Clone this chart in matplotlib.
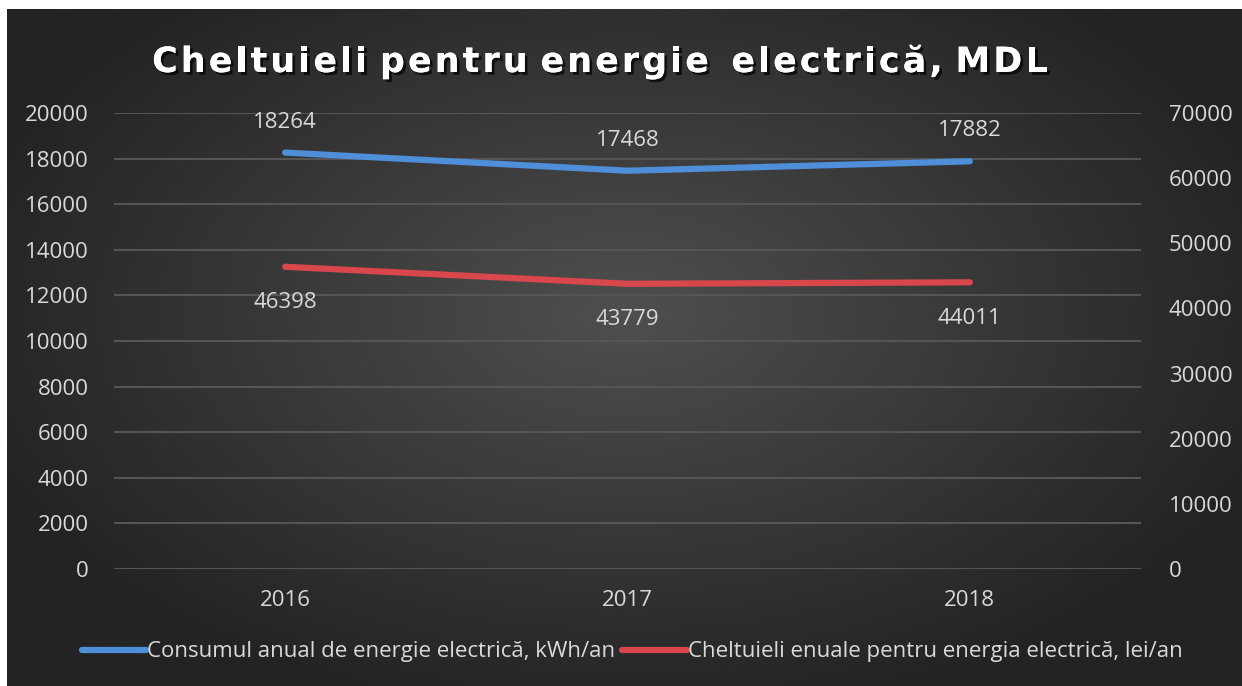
import numpy as np
import matplotlib
matplotlib.use("Agg")
import matplotlib.pyplot as plt
import matplotlib.patheffects as pe

years = ["2016", "2017", "2018"]
consum_kwh = [18264, 17468, 17882]
cheltuieli_lei = [46398, 43779, 44011]

left_ticks = list(range(0, 20001, 2000))
right_ticks = list(range(0, 70001, 10000))

title = "Cheltuieli pentru energie  electrică, MDL"
label_consum = "Consumul anual de energie electrică, kWh/an"
label_chelt = "Cheltuieli enuale pentru energia electrică, lei/an"

W, H = 1242, 686
fig = plt.figure(figsize=(W / 100, H / 100), dpi=100)
fig.patch.set_facecolor("white")

# dark chart box with radial gradient
bg = fig.add_axes([7 / W, 0, 1 - 7 / W, 1 - 9 / H])
gx, gy = np.meshgrid(np.linspace(-1, 1, 400), np.linspace(-1, 1, 240))
r = np.sqrt((gx / 1.1) ** 2 + ((gy + 0.1) / 1.2) ** 2)
shade = 0.31 - 0.17 * np.clip(r, 0, 1)
bg.imshow(shade, cmap="gray", vmin=0, vmax=1, aspect="auto",
          extent=[0, 1, 0, 1], interpolation="bicubic")
bg.set_axis_off()

ax = fig.add_axes([114 / W, 1 - 569 / H, (1141 - 114) / W, (569 - 113) / H])
ax.patch.set_alpha(0)
ax2 = ax.twinx()

x = np.arange(len(years))
tick_color = "#d9d9d9"
font = ["Open Sans", "DejaVu Sans"]
fs = 16

ax.set_xlim(-0.5, len(years) - 0.5)
ax.set_ylim(0, 20000)
ax2.set_ylim(0, 70000)
ax.set_yticks(left_ticks)
ax2.set_yticks(right_ticks)
ax.set_xticks(x)
ax.set_xticklabels(years)
ax.grid(axis="y", color="#555555", linewidth=1.5)
ax.set_axisbelow(True)

for a in (ax, ax2):
    for s in a.spines.values():
        s.set_visible(False)
    a.tick_params(length=0, labelcolor=tick_color, labelsize=fs)
    for lbl in a.get_xticklabels() + a.get_yticklabels():
        lbl.set_family(font)
ax.tick_params(axis="y", pad=18)
ax2.tick_params(axis="y", pad=20)
ax.tick_params(axis="x", pad=15)

blue = "#4f8fd9"
red = "#d9474d"
l1, = ax.plot(x, consum_kwh, color=blue, linewidth=4.5,
              solid_capstyle="round", label=label_consum)
l2, = ax2.plot(x, cheltuieli_lei, color=red, linewidth=4.5,
               solid_capstyle="round", label=label_chelt)

for xi, v in zip(x, consum_kwh):
    ax.annotate(str(v), (xi, v), xytext=(0, 22), textcoords="offset points",
                ha="center", va="center", color=tick_color, fontsize=fs,
                family=font)
for xi, v in zip(x, cheltuieli_lei):
    ax2.annotate(str(v), (xi, v), xytext=(0, -26), textcoords="offset points",
                 ha="center", va="center", color=tick_color, fontsize=fs,
                 family=font)

# title with extra letter spacing, drawn one character at a time
renderer = fig.canvas.get_renderer()
title_kw = dict(fontsize=25, fontweight="bold", color="white", va="center",
                ha="left",
                path_effects=[pe.withSimplePatchShadow(offset=(2, -2),
                                                       shadow_rgbFace="black",
                                                       alpha=0.7),
                              pe.Normal()])
spacing = 3.2
widths = []
for ch in title:
    t = fig.text(0, 0, ch.replace(" ", "l"), **title_kw)
    widths.append(t.get_window_extent(renderer).width * (0.55 if ch == " " else 1))
    t.remove()
total = sum(widths) + spacing * (len(title) - 1)
xpos = 600 - total / 2
ty = 1 - 62 / H
for ch, w in zip(title, widths):
    if ch != " ":
        fig.text(xpos / W, ty, ch, **title_kw)
    xpos += w + spacing

leg = fig.legend(handles=[l1, l2], loc="center", ncol=2,
                 bbox_to_anchor=(0.509, 1 - 652 / H), frameon=False,
                 handlelength=2.9, handletextpad=0.05, columnspacing=0.3,
                 prop={"family": font, "size": fs})
for t in leg.get_texts():
    t.set_color(tick_color)

fig.savefig("out.png", dpi=100, facecolor=fig.get_facecolor())
